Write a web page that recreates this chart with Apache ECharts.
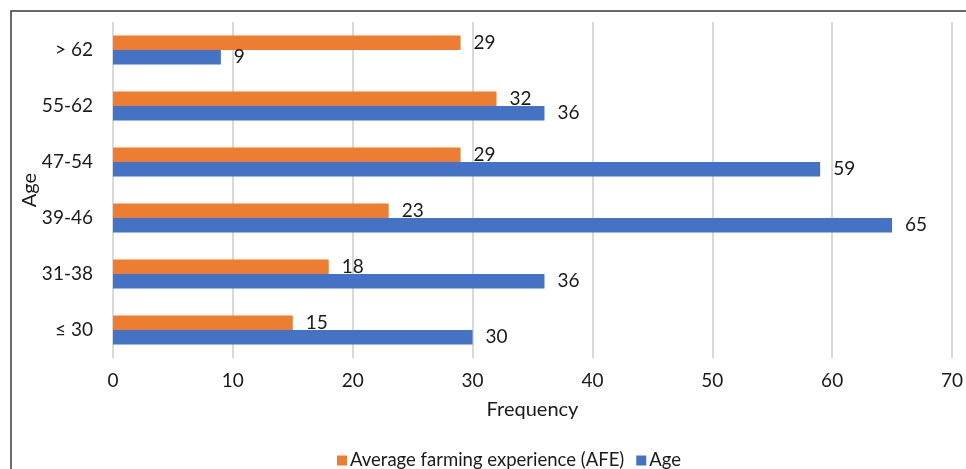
<!DOCTYPE html>
<html>
<head>
<meta charset="utf-8">
<script src="https://cdn.jsdelivr.net/npm/echarts@6/dist/echarts.min.js"></script>
<style>
  html, body { margin: 0; padding: 0; background: #fff; }
  #chart { width: 966px; height: 469px; }
</style>
</head>
<body>
<div id="chart"></div>
<script>
// Age groups, listed bottom to top along the category axis
const ageGroups = ['≤ 30', '31-38', '39-46', '47-54', '55-62', '> 62'];
// Average farming experience (AFE) per age group
const afeValues = [15, 18, 23, 29, 32, 29];
// Frequency of respondents per age group
const ageValues = [30, 36, 65, 59, 36, 9];
// Frequency axis ticks
const freqTicks = [0, 10, 20, 30, 40, 50, 60, 70];

const FONT = 'Lato';
const TEXT = '#1a1a1a';

const chart = echarts.init(document.getElementById('chart'), null, { renderer: 'canvas' });

const labelStyle = {
  show: true,
  position: 'right',
  distance: 13,
  color: TEXT,
  fontFamily: FONT,
  fontSize: 19
};

chart.setOption({
  backgroundColor: '#ffffff',
  animation: false,
  textStyle: { fontFamily: FONT },
  graphic: [{
    type: 'rect',
    shape: { x: 11, y: 11, width: 1000, height: 500 },
    style: { fill: 'none', stroke: '#3a3a3a', lineWidth: 1.5 },
    silent: true
  }],
  grid: { left: 113, right: 8, top: 22, bottom: 111, containLabel: false },
  legend: {
    left: 332,
    top: 446,
    itemWidth: 10,
    itemHeight: 10,
    itemGap: 12,
    icon: 'rect',
    textStyle: { color: TEXT, fontFamily: FONT, fontSize: 18.5, padding: [0, 0, 0, -2] },
    data: ['Average farming experience (AFE)', 'Age']
  },
  xAxis: {
    type: 'value',
    min: freqTicks[0],
    max: freqTicks[freqTicks.length - 1],
    interval: freqTicks[1] - freqTicks[0],
    name: 'Frequency',
    nameLocation: 'middle',
    nameGap: 42,
    nameTextStyle: { color: TEXT, fontFamily: FONT, fontSize: 20 },
    axisLine: { show: false },
    axisTick: { show: false },
    axisLabel: { color: TEXT, fontFamily: FONT, fontSize: 19, margin: 13 },
    splitLine: { show: true, lineStyle: { color: '#d9d9d9', width: 2 } }
  },
  yAxis: {
    type: 'category',
    data: ageGroups,
    name: 'Age',
    nameLocation: 'middle',
    nameGap: 73,
    nameRotate: 90,
    nameMoveOverlap: false,
    nameTextStyle: { color: TEXT, fontFamily: FONT, fontSize: 20 },
    axisLine: { show: false },
    axisTick: { show: false },
    axisLabel: { color: TEXT, fontFamily: FONT, fontSize: 19, margin: 20 },
    splitLine: { show: false }
  },
  series: [
    {
      name: 'Average farming experience (AFE)',
      type: 'bar',
      data: afeValues,
      barWidth: 14.5,
      barGap: '0%',
      itemStyle: { color: '#ED7D31' },
      label: labelStyle
    },
    {
      name: 'Age',
      type: 'bar',
      data: ageValues,
      barWidth: 14.5,
      barGap: '0%',
      itemStyle: { color: '#4472C4' },
      label: labelStyle
    }
  ]
});
</script>
</body>
</html>
